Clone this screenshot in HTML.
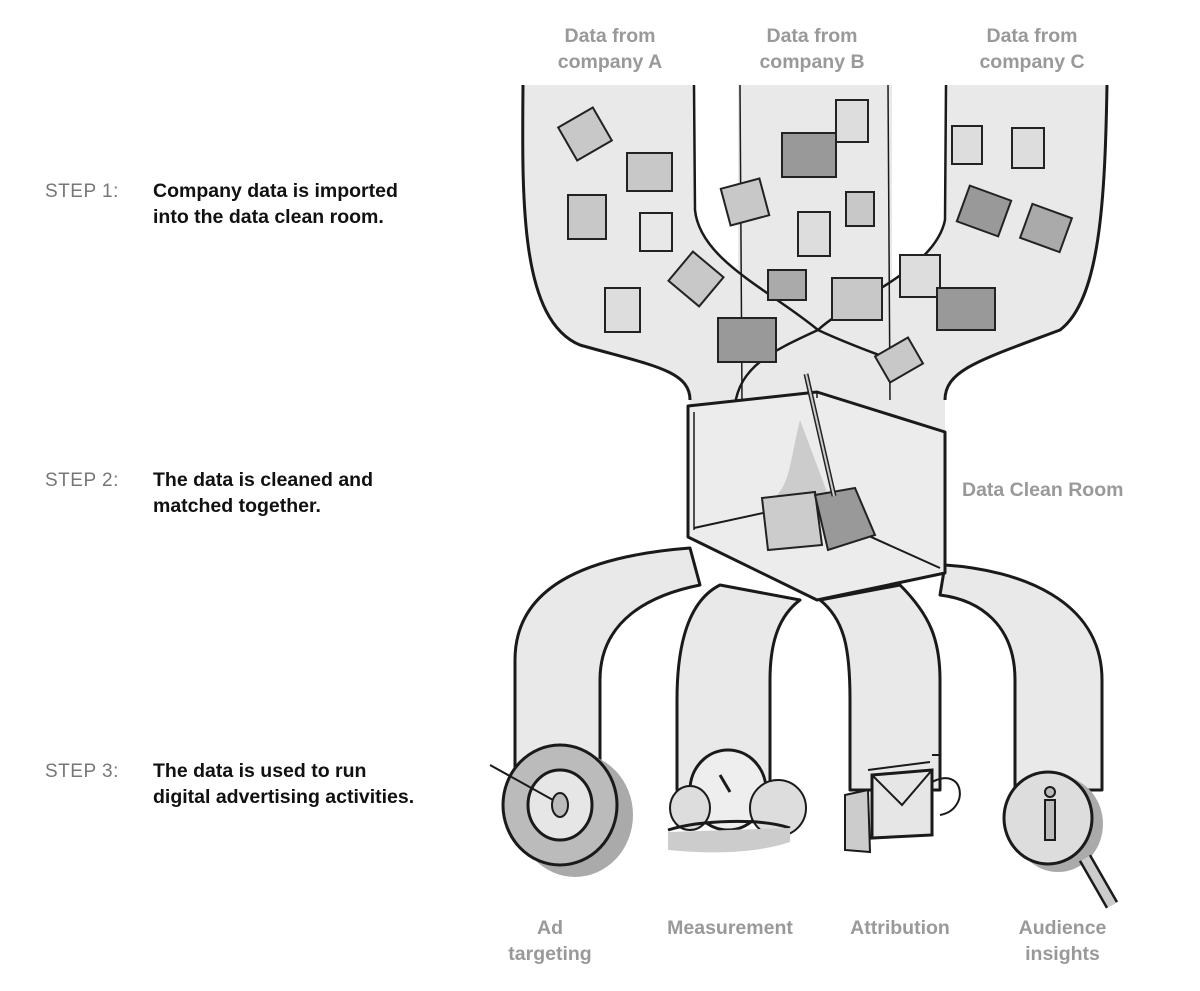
<!DOCTYPE html>
<html><head><meta charset="utf-8"><style>
body{margin:0;background:#fff;width:1200px;height:991px;position:relative;overflow:hidden;font-family:"Liberation Sans",sans-serif}
.step{position:absolute;left:45px;color:#777;font-size:19px;letter-spacing:0.5px}
.desc{position:absolute;left:153px;color:#111;font-size:19.5px;font-weight:bold;line-height:26px}
.lab{position:absolute;color:#999;font-size:19.5px;font-weight:bold;text-align:center;line-height:26px}
svg{position:absolute;left:0;top:0}
</style></head><body>
<svg width="1200" height="991" viewBox="0 0 1200 991">
<g fill="#e9e9e9" stroke="#1a1a1a" stroke-width="3" stroke-linejoin="round">
<!-- funnel -->
<path d="M523 85 C522 200 520 320 580 345 C650 365 690 370 690 400 L690 440 L945 440 L945 400 C945 370 980 360 1060 330 C1100 300 1105 200 1107 85 Z" stroke="none"/>
<path d="M694 85 L695 210 C700 260 780 300 818 330 C850 305 935 270 945 220 L946 85 Z" fill="#fff" stroke="none"/>
<path d="M738 85 L892 85 L892 440 L738 440 Z" stroke="none"/>
<path d="M523 85 C522 200 520 320 580 345 C650 365 690 370 690 400" fill="none"/>
<path d="M1107 85 C1105 200 1100 300 1060 330 C980 360 945 370 945 400" fill="none"/>
<path d="M694 85 L695 210 C700 260 770 290 818 330 C850 345 880 355 897 362" fill="none" stroke-width="2.5"/>
<path d="M946 85 L945 220 C935 270 850 300 818 330 C775 350 740 365 735 405" fill="none" stroke-width="2.5"/>
<path d="M740 85 L742 400" fill="none" stroke-width="1.5"/>
<path d="M888 85 L890 400" fill="none" stroke-width="1.5"/>
<!-- tubes -->
<path d="M690 548 C600 555 515 580 515 660 L515 790 L600 790 L600 680 C600 620 650 595 700 585 Z"/>
<path d="M720 585 C690 600 677 640 677 700 L677 790 L770 790 L770 680 C770 640 780 615 800 600 Z"/>
<path d="M820 600 C845 620 850 650 850 700 L850 790 L940 790 L940 680 C940 640 930 615 900 585 Z"/>
<path d="M945 565 C1020 570 1102 600 1102 680 L1102 790 L1015 790 L1015 680 C1015 625 980 600 940 595 Z"/>
<!-- box -->
<path d="M688 406 L817 392 L945 432 L945 573 L817 600 L688 537 Z" fill="#ececec"/>
<path d="M694 528 L800 505 L940 568" fill="none" stroke-width="2"/>
<path d="M694 412 L694 530 M817 392 L817 398" fill="none" stroke-width="1.5"/>
</g>
<!-- files -->
<g fill="#c8c8c8" stroke="#222" stroke-width="2">
<rect x="565" y="115" width="40" height="38" transform="rotate(-30 585 134)"/>
<rect x="627" y="153" width="45" height="38"/>
<rect x="568" y="195" width="38" height="44"/>
<rect x="640" y="213" width="32" height="38" fill="#e8e8e8"/>
<rect x="605" y="288" width="35" height="44" fill="#ddd"/>
<rect x="676" y="260" width="40" height="38" transform="rotate(40 696 279)"/>
<rect x="718" y="318" width="58" height="44" fill="#999"/>
<rect x="725" y="183" width="40" height="38" transform="rotate(-15 745 202)"/>
<rect x="782" y="133" width="54" height="44" fill="#999"/>
<rect x="836" y="100" width="32" height="42" fill="#ddd"/>
<rect x="846" y="192" width="28" height="34"/>
<rect x="798" y="212" width="32" height="44" fill="#ddd"/>
<rect x="768" y="270" width="38" height="30" fill="#aaa"/>
<rect x="832" y="278" width="50" height="42"/>
<rect x="880" y="345" width="38" height="30" transform="rotate(-30 899 360)"/>
<rect x="952" y="126" width="30" height="38" fill="#ddd"/>
<rect x="1012" y="128" width="32" height="40" fill="#ddd"/>
<rect x="962" y="192" width="44" height="38" fill="#999" transform="rotate(20 984 211)"/>
<rect x="1025" y="210" width="42" height="36" fill="#aaa" transform="rotate(20 1046 228)"/>
<rect x="900" y="255" width="40" height="42" fill="#ddd"/>
<rect x="937" y="288" width="58" height="42" fill="#999"/>
</g>
<!-- broom -->
<g stroke="#222" stroke-width="2" fill="#bbb">
<path d="M800 420 C790 460 790 490 770 500 L830 500 Z" fill="#ccc" stroke="none"/>
<path d="M762 498 L815 492 L822 545 L768 550 Z" fill="#ccc"/>
<path d="M815 495 L855 488 L875 535 L828 550 Z" fill="#999"/>
<line x1="806" y1="374" x2="834" y2="496" stroke-width="5"/>
<line x1="806" y1="374" x2="834" y2="496" stroke-width="2" stroke="#ccc"/>
</g>
<!-- icons -->
<g stroke="#1a1a1a" stroke-width="3">
<ellipse cx="565" cy="810" rx="58" ry="62" fill="#aaa" stroke="none" transform="translate(10 5)"/>
<ellipse cx="560" cy="805" rx="57" ry="60" fill="#bbb"/>
<ellipse cx="560" cy="805" rx="32" ry="35" fill="#e6e6e6"/>
<ellipse cx="560" cy="805" rx="8" ry="12" fill="#bbb" stroke-width="2"/>
<line x1="490" y1="765" x2="553" y2="800" stroke-width="2"/>
<ellipse cx="728" cy="790" rx="38" ry="40" fill="#eee"/>
<ellipse cx="690" cy="808" rx="20" ry="22" fill="#ddd" stroke-width="2"/>
<ellipse cx="778" cy="808" rx="28" ry="28" fill="#ddd" stroke-width="2"/>
<line x1="720" y1="775" x2="730" y2="792"/>
<path d="M668 830 C700 820 760 818 790 828" fill="none"/>
<path d="M668 832 L668 850 C720 855 760 852 790 842 L790 828" fill="#ccc" stroke="none"/>
<path d="M872 775 L932 770 L932 835 L872 838 Z" fill="#e6e6e6"/>
<path d="M872 775 L902 805 L932 770" fill="none" stroke-width="2"/>
<path d="M845 795 L868 790 L870 852 L845 850 Z" fill="#ccc" stroke-width="2"/>
<path d="M868 770 L930 762 M932 755 L940 755" fill="none" stroke-width="2"/>
<path d="M932 782 C965 765 970 810 940 815" fill="none" stroke-width="2"/>
<ellipse cx="1052" cy="818" rx="45" ry="48" fill="#aaa" stroke="none" transform="translate(6 6)"/>
<ellipse cx="1048" cy="818" rx="44" ry="46" fill="#ddd"/>
<line x1="1085" y1="858" x2="1112" y2="905" stroke-width="14"/>
<line x1="1085" y1="858" x2="1112" y2="905" stroke-width="9" stroke="#ccc"/>
<rect x="1045" y="800" width="10" height="40" fill="#bbb" stroke-width="2"/>
<circle cx="1050" cy="792" r="5" fill="#bbb" stroke-width="2"/>
</g>
</svg>
<div class="lab" style="left:540px;top:23px;width:140px">Data from<br>company A</div>
<div class="lab" style="left:742px;top:23px;width:140px">Data from<br>company B</div>
<div class="lab" style="left:962px;top:23px;width:140px">Data from<br>company C</div>
<div class="lab" style="left:962px;top:477px">Data Clean Room</div>
<div class="lab" style="left:490px;top:915px;width:120px">Ad<br>targeting</div>
<div class="lab" style="left:655px;top:915px;width:150px">Measurement</div>
<div class="lab" style="left:835px;top:915px;width:130px">Attribution</div>
<div class="lab" style="left:1000px;top:915px;width:125px">Audience<br>insights</div>
<div class="step" style="top:181px">STEP 1:</div>
<div class="desc" style="top:178px">Company data is imported<br>into the data clean room.</div>
<div class="step" style="top:470px">STEP 2:</div>
<div class="desc" style="top:467px">The data is cleaned and<br>matched together.</div>
<div class="step" style="top:761px">STEP 3:</div>
<div class="desc" style="top:758px">The data is used to run<br>digital advertising activities.</div>
</body></html>
